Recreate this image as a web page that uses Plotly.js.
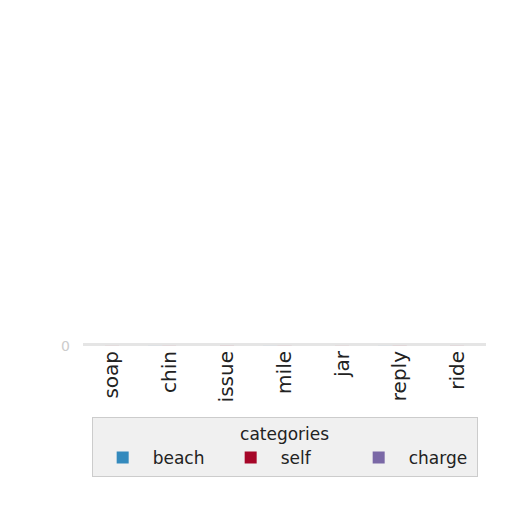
<!DOCTYPE html>
<html>
<head>
<meta charset="utf-8">
<script src="https://cdn.plot.ly/plotly-3.0.1.min.js"></script>
<style>
  html, body { margin: 0; padding: 0; background: #fff; }
  #chart { width: 512px; height: 512px; }
</style>
</head>
<body>
<div id="chart"></div>
<script>
// categorias y series
var categorias = ["soap", "chin", "issue", "mile", "jar", "reply", "ride"];
var valoresBeach = [4, 5, 3, 6, 4, 5, 3];
var valoresSelf = [6, 7, 8, 7, 6, 8, 7];
var valoresCharge = [2, 3, 2, 4, 3, 2, 3];

var dataBarras = [
  { x: categorias, y: valoresBeach, type: "bar", name: "beach", marker: { color: "#348ABD" } },
  { x: categorias, y: valoresSelf, type: "bar", name: "self", marker: { color: "#A60628" } },
  { x: categorias, y: valoresCharge, type: "bar", name: "charge", marker: { color: "#7A68A6" } }
];

var layout = {
  width: 512,
  height: 512,
  paper_bgcolor: "#ffffff",
  plot_bgcolor: "#E5E5E5",
  font: { family: "DejaVu Sans", color: "#222222" },
  margin: { l: 83, r: 26, t: 343, b: 166 },
  barmode: "group",
  bargap: 0.25,
  showlegend: true,
  xaxis: {
    tickangle: -90,
    tickfont: { size: 20, color: "#222222" },
    showgrid: false,
    zeroline: false,
    ticks: ""
  },
  yaxis: {
    range: [0, 400],
    tickvals: [0],
    ticktext: ["0"],
    tickfont: { size: 14, color: "#cccccc" },
    showgrid: false,
    zeroline: false,
    ticks: "",
    ticklabelstandoff: 12
  },
  legend: {
    orientation: "h",
    xref: "container",
    yref: "container",
    x: 0.556,
    xanchor: "center",
    y: 0.186,
    yanchor: "top",
    bgcolor: "#f0f0f0",
    bordercolor: "#cccccc",
    borderwidth: 1,
    font: { size: 17, color: "#222222" },
    title: { text: "categories", side: "top center", font: { size: 17, color: "#222222" } },
    itemwidth: 50,
    entrywidth: 63,
    traceorder: "normal"
  }
};

Plotly.newPlot("chart", dataBarras, layout, { displayModeBar: false, staticPlot: true });
</script>
</body>
</html>
